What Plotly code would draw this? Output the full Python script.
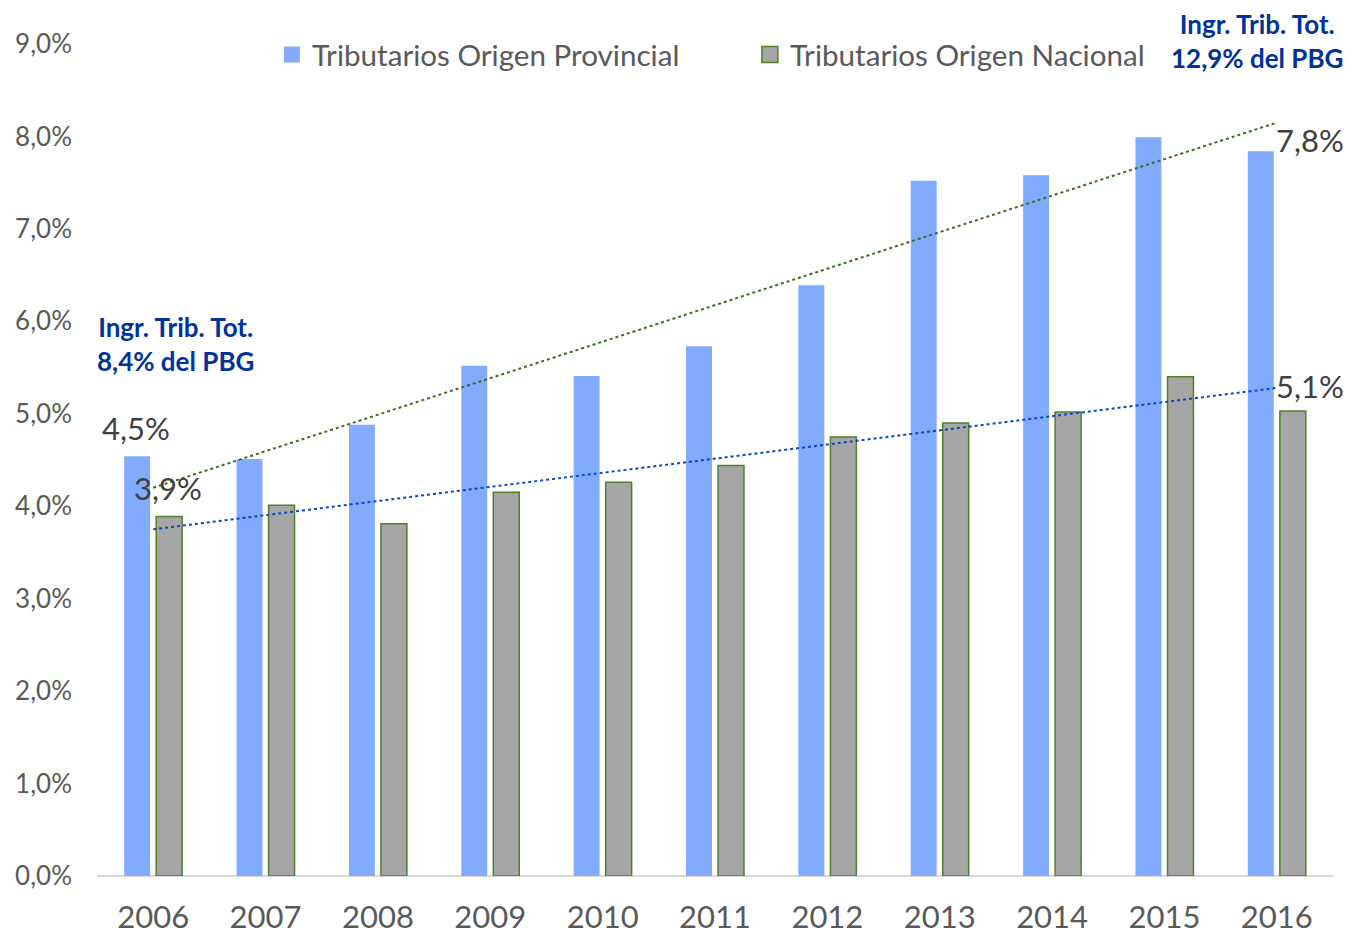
import plotly.graph_objects as go

years = ['2006', '2007', '2008', '2009', '2010', '2011',
         '2012', '2013', '2014', '2015', '2016']
provincial = [4.54, 4.51, 4.88, 5.52, 5.41, 5.73, 6.39, 7.52, 7.58, 7.99, 7.84]
nacional = [3.89, 4.01, 3.81, 4.15, 4.26, 4.44, 4.75, 4.90, 5.02, 5.40, 5.03]

# linear trend lines (Excel trendline), endpoints
trend_years = ['2006', '2016']
trend_prov = [4.20, 8.15]
trend_nac = [3.75, 5.28]

FONT = 'Lato'
GREY = '#595959'
BLUE = '#82AAFF'
BAR_GREY = '#A6A6A6'
BAR_EDGE = '#4F7F2A'

fig = go.Figure()
fig.add_trace(go.Bar(x=years, y=provincial, name='Tributarios Origen Provincial',
                     marker=dict(color=BLUE, line=dict(width=0)),
                     legendgroup='p', showlegend=False))
fig.add_trace(go.Bar(x=years, y=nacional, name='Tributarios Origen Nacional',
                     marker=dict(color=BAR_GREY, line=dict(color=BAR_EDGE, width=1.5)),
                     legendgroup='n', showlegend=False))
fig.add_trace(go.Scatter(x=trend_years, y=trend_prov, mode='lines',
                         line=dict(color='#3B6E1E', width=2, dash='dot'),
                         showlegend=False, hoverinfo='skip'))
fig.add_trace(go.Scatter(x=trend_years, y=trend_nac, mode='lines',
                         line=dict(color='#0A47C8', width=2, dash='dot'),
                         showlegend=False, hoverinfo='skip'))

# legend entries with bigger square swatches
fig.add_trace(go.Scatter(x=[years[0]], y=[None], mode='markers', legendgroup='p',
                         name='Tributarios Origen Provincial',
                         marker=dict(symbol='square', size=16, color=BLUE)))
fig.add_trace(go.Scatter(x=[years[0]], y=[None], mode='markers', legendgroup='n',
                         name='Tributarios Origen Nacional',
                         marker=dict(symbol='square', size=16, color=BAR_GREY,
                                     line=dict(color=BAR_EDGE, width=1.5))))

# data labels (x as category index)
labels = [
    (0, provincial[0], '4,5%', -17, 28),
    (0, nacional[0], '3,9%', 15, 28),
    (10, provincial[-1], '7,8%', 33, 11),
    (10, nacional[-1], '5,1%', 33, 25),
]
for x, y, t, dx, dy in labels:
    fig.add_annotation(x=x, y=y, text=t, showarrow=False, xshift=dx, yshift=dy,
                       font=dict(family=FONT, size=31, color='#404040'))

# total tax notes
notes = [
    (0.0639, 0.6394, '<b>Ingr. Trib. Tot.<br>8,4% del PBG</b>'),
    (0.9385, 1.0036, '<b>Ingr. Trib. Tot.<br>12,9% del PBG</b>'),
]
for x, y, t in notes:
    fig.add_annotation(x=x, y=y, xref='paper', yref='paper', text=t,
                       xanchor='center', yanchor='middle',
                       showarrow=False, align='center',
                       font=dict(family=FONT, size=26, color='#003399'))

fig.update_layout(
    width=1351, height=938,
    margin=dict(l=97, r=18, t=44, b=62),
    paper_bgcolor='white', plot_bgcolor='white',
    separators=',.',
    barmode='group', bargap=0.43, bargroupgap=0.19,
    font=dict(family=FONT, color=GREY),
    legend=dict(orientation='h', x=0.1415, y=0.987, xanchor='left', yanchor='middle',
                font=dict(family=FONT, size=29.6, color=GREY),
                entrywidth=433, bgcolor='rgba(0,0,0,0)'),
    xaxis=dict(type='category', range=[-0.5, 10.5], showgrid=False, showline=False,
               ticks='', tickfont=dict(family=FONT, size=31, color=GREY),
               ticklabelstandoff=20, automargin=False),
    yaxis=dict(range=[0, 9], dtick=1, tickformat='.1f', ticksuffix='%',
               showgrid=False, zeroline=True, zerolinecolor='#D9D9D9', zerolinewidth=1.5,
               showline=False, ticks='',
               tickfont=dict(family=FONT, size=26, color=GREY),
               ticklabelstandoff=24, automargin=False),
)

# drop the default page margin so the figure fills the window
fig.write_html('out.html', config={'displayModeBar': False},
               post_script="document.body.style.margin='0';")
